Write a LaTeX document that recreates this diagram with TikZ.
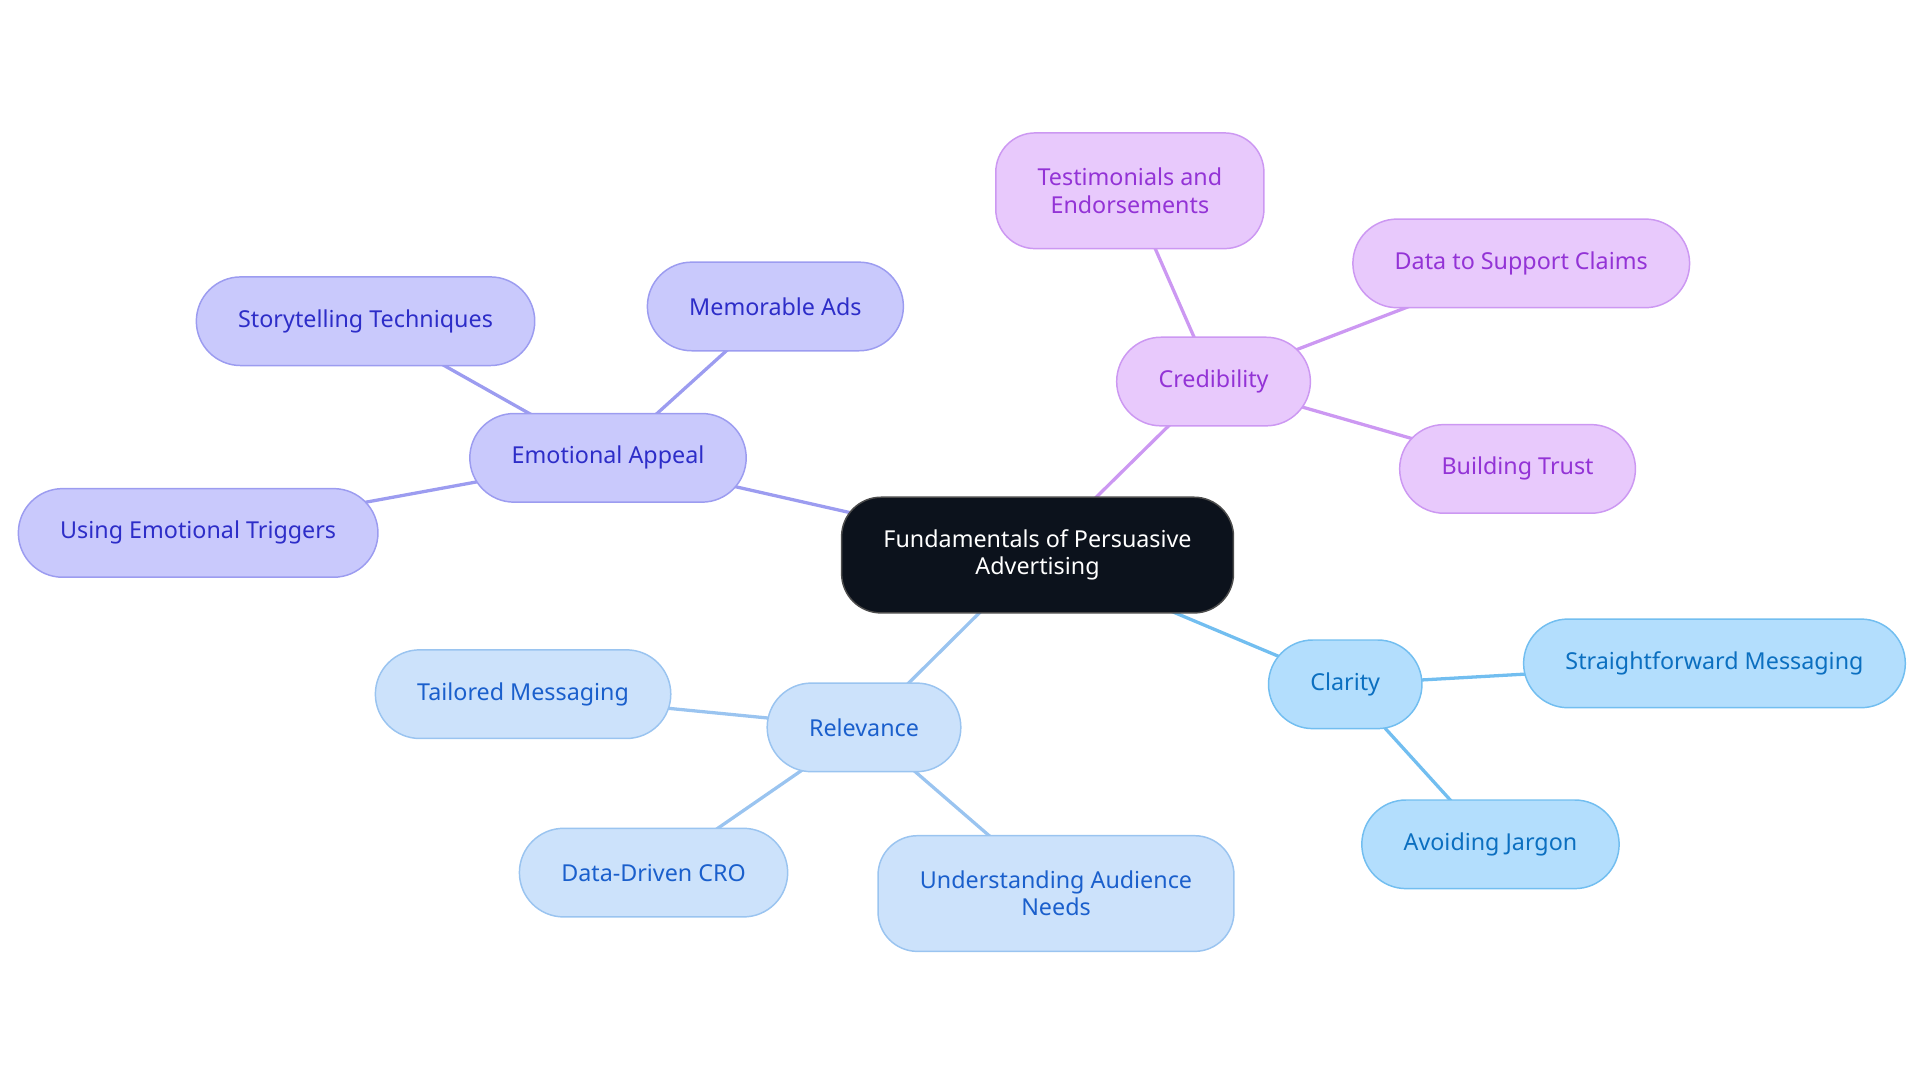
\documentclass[tikz,border=0pt]{standalone}
\usepackage{fontspec}
\setmainfont{Noto Sans}
\usepackage{xcolor}
\usetikzlibrary{backgrounds}

\definecolor{emoFill}{RGB}{201,201,252}
\definecolor{emoLine}{RGB}{156,156,240}
\definecolor{emoText}{RGB}{45,45,200}
\definecolor{credFill}{RGB}{232,201,252}
\definecolor{credLine}{RGB}{204,152,242}
\definecolor{credText}{RGB}{147,51,214}
\definecolor{clarFill}{RGB}{179,222,253}
\definecolor{clarLine}{RGB}{114,190,240}
\definecolor{clarText}{RGB}{11,111,192}
\definecolor{relFill}{RGB}{204,226,251}
\definecolor{relLine}{RGB}{154,196,240}
\definecolor{relText}{RGB}{26,95,204}
\definecolor{rootFill}{RGB}{12,18,28}

\tikzset{
  box/.style={rounded corners=27pt, line width=0.9pt, align=center, minimum height=54pt,
    inner xsep=25.5pt, inner ysep=6pt, font=\fontsize{14.2}{16.5}\selectfont},
  root/.style={box, fill=rootFill, draw=black!70, text=white, minimum height=70.5pt, rounded corners=24pt},
  emo/.style={box, fill=emoFill, draw=emoLine, text=emoText},
  cred/.style={box, fill=credFill, draw=credLine, text=credText},
  clar/.style={box, fill=clarFill, draw=clarLine, text=clarText},
  rel/.style={box, fill=relFill, draw=relLine, text=relText},
  tall/.style={minimum height=70.5pt, rounded corners=24pt},
  link/.style={line width=2pt}
}

\begin{document}
\begin{tikzpicture}[x=0.75pt,y=0.75pt,yscale=-1,xscale=1]
\useasboundingbox (0,0) rectangle (1560,880);

% Root
\node [root] (root) at (843,451) {Fundamentals of Persuasive\\Advertising};

% Emotional Appeal branch
\node [emo] (emo) at (494,372) {Emotional Appeal};
\node [emo] (story) at (297,261) {Storytelling Techniques};
\node [emo] (memo) at (630,249) {Memorable Ads};
\node [emo] (trig) at (161,433) {Using Emotional Triggers};

% Credibility branch
\node [cred] (cred) at (986,310) {Credibility};
\node [cred,tall] (testi) at (918,155) {Testimonials and\\Endorsements};
\node [cred] (claims) at (1236,214) {Data to Support Claims};
\node [cred] (trust) at (1233,381) {Building Trust};

% Clarity branch
\node [clar] (clar) at (1093,556) {Clarity};
\node [clar] (straight) at (1393,539) {Straightforward Messaging};
\node [clar] (jargon) at (1211,686) {Avoiding Jargon};

% Relevance branch
\node [rel] (rel) at (702,591) {Relevance};
\node [rel] (tail) at (425,564) {Tailored Messaging};
\node [rel] (cro) at (531,709) {Data-Driven CRO};
\node [rel,tall] (needs) at (858,726) {Understanding Audience\\Needs};

% Links
\begin{pgfonlayer}{background}
\draw [link,emoLine] (root.center) -- (emo.center);
\draw [link,emoLine] (emo.center) -- (story.center);
\draw [link,emoLine] (emo.center) -- (memo.center);
\draw [link,emoLine] (emo.center) -- (trig.center);
\draw [link,credLine] (root.center) -- (cred.center);
\draw [link,credLine] (cred.center) -- (testi.center);
\draw [link,credLine] (cred.center) -- (claims.center);
\draw [link,credLine] (cred.center) -- (trust.center);
\draw [link,clarLine] (root.center) -- (clar.center);
\draw [link,clarLine] (clar.center) -- (straight.center);
\draw [link,clarLine] (clar.center) -- (jargon.center);
\draw [link,relLine] (root.center) -- (rel.center);
\draw [link,relLine] (rel.center) -- (tail.center);
\draw [link,relLine] (rel.center) -- (cro.center);
\draw [link,relLine] (rel.center) -- (needs.center);
\end{pgfonlayer}

\end{tikzpicture}
\end{document}
